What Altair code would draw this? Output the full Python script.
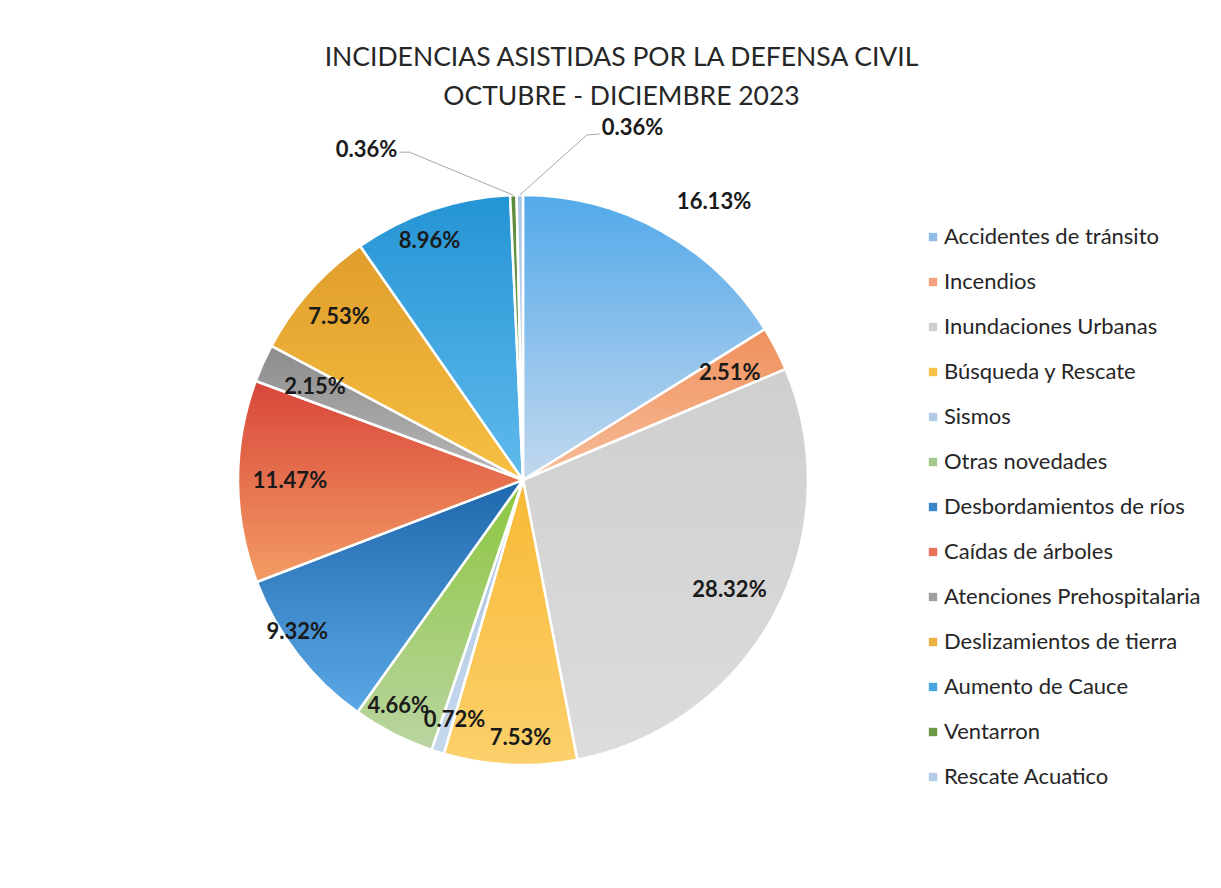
import altair as alt
import pandas as pd

CATEGORIES = [
    "Accidentes de tránsito", "Incendios", "Inundaciones Urbanas", "Búsqueda y Rescate",
    "Sismos", "Otras novedades", "Desbordamientos de ríos", "Caídas de árboles",
    "Atenciones Prehospitalaria", "Deslizamientos de tierra", "Aumento de Cauce",
    "Ventarron", "Rescate Acuatico",
]
PERCENTS = [16.13, 2.51, 28.32, 7.53, 0.72, 4.66, 9.32, 11.47, 2.15, 7.53, 8.96, 0.36, 0.36]

# styling
SWATCH = ["#8FBDE8", "#F2A27C", "#D0D0D0", "#F8C24A", "#B0CBE6", "#A5C98B", "#3C86CC",
          "#E8715A", "#A0A0A0", "#EAB040", "#48A6DE", "#6B9A45", "#B3CDE8"]
GRADIENTS = [("#52A9EA", "#C3D8EE"), ("#F0905C", "#F7BE9A"), ("#CFCFCF", "#DCDCDC"),
             ("#F8B935", "#FCD06C"), ("#A9C4E4", "#C7D8EC"), ("#8CC63E", "#BAD5A2"),
             ("#1E67AC", "#5CA8E6"), ("#D8463A", "#F39C64"), ("#8C8C8C", "#B8B8B8"),
             ("#E09D2C", "#F7C042"), ("#2494D4", "#60BAEC"), ("#5D8A3A", "#80A95C"),
             ("#A8C6E6", "#C8DAF0")]
# label placement: (radius in px, angular shift from slice middle in degrees)
LABEL_POS = {"Accidentes de tránsito": (337, 5.5), "Incendios": (233, 0),
             "Inundaciones Urbanas": (234, 0), "Búsqueda y Rescate": (258, -2.0),
             "Sismos": (250, -1.5), "Otras novedades": (258, 1.8),
             "Desbordamientos de ríos": (272, 3.8), "Caídas de árboles": (233, 0),
             "Atenciones Prehospitalaria": (228, 0), "Deslizamientos de tierra": (246, 0),
             "Aumento de Cauce": (257, -2.6)}

CX, CY, R = 523, 360, 285
FONT = "Lato"
LBL_SIZE = 22

df = pd.DataFrame({"category": CATEGORIES, "pct": PERCENTS, "idx": list(range(len(CATEGORIES)))})
df["txt"] = [f"{p:.2f}%" for p in PERCENTS]
df["lr"] = [LABEL_POS.get(c, (0, 0))[0] for c in CATEGORIES]
df["la"] = [LABEL_POS.get(c, (0, 0))[1] for c in CATEGORIES]

base = alt.Chart(df).encode(
    theta=alt.Theta("pct:Q", stack=True),
    order=alt.Order("idx:Q", sort="ascending"),
    x=alt.value(CX), y=alt.value(CY),
)

pie = base.mark_arc(radius=R, stroke="white", strokeWidth=2.5).encode(
    color=alt.Color(
        "category:N",
        scale=alt.Scale(domain=CATEGORIES, range=SWATCH),
        legend=alt.Legend(
            title=None, orient="none", legendX=922, legendY=106,
            symbolType="square", symbolSize=70, symbolStrokeWidth=0,
            labelFont=FONT, labelFontSize=22, labelColor="#262626",
            rowPadding=23, labelOffset=0, padding=0, labelLimit=400,
        ),
    )
)

layers = [pie]
for cat, (c1, c2) in zip(CATEGORIES, GRADIENTS):
    grad = alt.Gradient(
        gradient="linear",
        stops=[alt.GradientStop(color=c1, offset=0), alt.GradientStop(color=c2, offset=1)],
        x1=0, y1=0, x2=0, y2=1,
    )
    layers.append(
        base.mark_arc(radius=R, stroke="white", strokeWidth=2.5, fill=grad).encode(
            opacity=alt.condition(alt.datum.category == cat, alt.value(1), alt.value(0))
        )
    )

# slice geometry computed from the data
geo = (
    alt.Chart(df)
    .transform_joinaggregate(total="sum(pct)")
    .transform_window(cum="sum(pct)", sort=[alt.SortField("idx")], frame=[None, 0])
    .transform_calculate(mid="(datum.cum - datum.pct/2) / datum.total * 2 * PI")
    .transform_calculate(
        ex=f"{CX} + {R} * sin(datum.mid)",
        ey=f"{CY} - {R} * cos(datum.mid)",
        tx=f"{CX} + datum.lr * sin(datum.mid + datum.la * PI / 180)",
        ty=f"{CY} - datum.lr * cos(datum.mid + datum.la * PI / 180)",
    )
)

labels = geo.transform_filter(alt.datum.lr > 0).mark_text(
    font=FONT, fontWeight="bold", fontSize=LBL_SIZE, color="#1A1A1A",
    align="center", baseline="middle",
).encode(
    x=alt.X("tx:Q", scale=None, axis=None),
    y=alt.Y("ty:Q", scale=None, axis=None),
    text="txt:N",
)
layers.append(labels)


def leader(cat, d1, d2, dl, align):
    c = geo.transform_calculate(
        bx=f"datum.ex + ({d1[0]})", by=f"datum.ey + ({d1[1]})",
        fx=f"datum.ex + ({d2[0]})", fy=f"datum.ey + ({d2[1]})",
        lx=f"datum.ex + ({dl[0]})", ly=f"datum.ey + ({dl[1]})",
    ).transform_filter(alt.datum.category == cat)
    seg1 = c.mark_rule(color="#A6A6A6", strokeWidth=1).encode(
        x=alt.X("ex:Q", scale=None, axis=None), y=alt.Y("ey:Q", scale=None, axis=None),
        x2="bx:Q", y2="by:Q")
    seg2 = c.mark_rule(color="#A6A6A6", strokeWidth=1).encode(
        x=alt.X("bx:Q", scale=None, axis=None), y=alt.Y("by:Q", scale=None, axis=None),
        x2="fx:Q", y2="fy:Q")
    txt = c.mark_text(font=FONT, fontWeight="bold", fontSize=LBL_SIZE, color="#1A1A1A",
                      align=align, baseline="middle").encode(
        x=alt.X("lx:Q", scale=None, axis=None), y=alt.Y("ly:Q", scale=None, axis=None),
        text="txt:N")
    return [seg1, seg2, txt]


layers += leader("Ventarron", (-104, -43), (-114, -43), (-116, -45), "right")
layers += leader("Rescate Acuatico", (67, -60), (80, -61), (82, -67), "left")

chart = (
    alt.layer(*layers)
    .properties(
        width=1221, height=768,
        padding={"top": 120, "left": 0, "right": 0, "bottom": 0},
        autosize="none",
        background="white",
        title=alt.TitleParams(
            text=["INCIDENCIAS ASISTIDAS POR LA DEFENSA CIVIL", "OCTUBRE - DICIEMBRE 2023"],
            font=FONT, fontSize=26.5, fontWeight="normal", color="#262626",
            anchor="middle", dx=11, offset=7, lineHeight=39,
        ),
    )
    .configure_view(stroke=None)
)

chart.save("out.html", embed_options={"renderer": "svg", "actions": False})
